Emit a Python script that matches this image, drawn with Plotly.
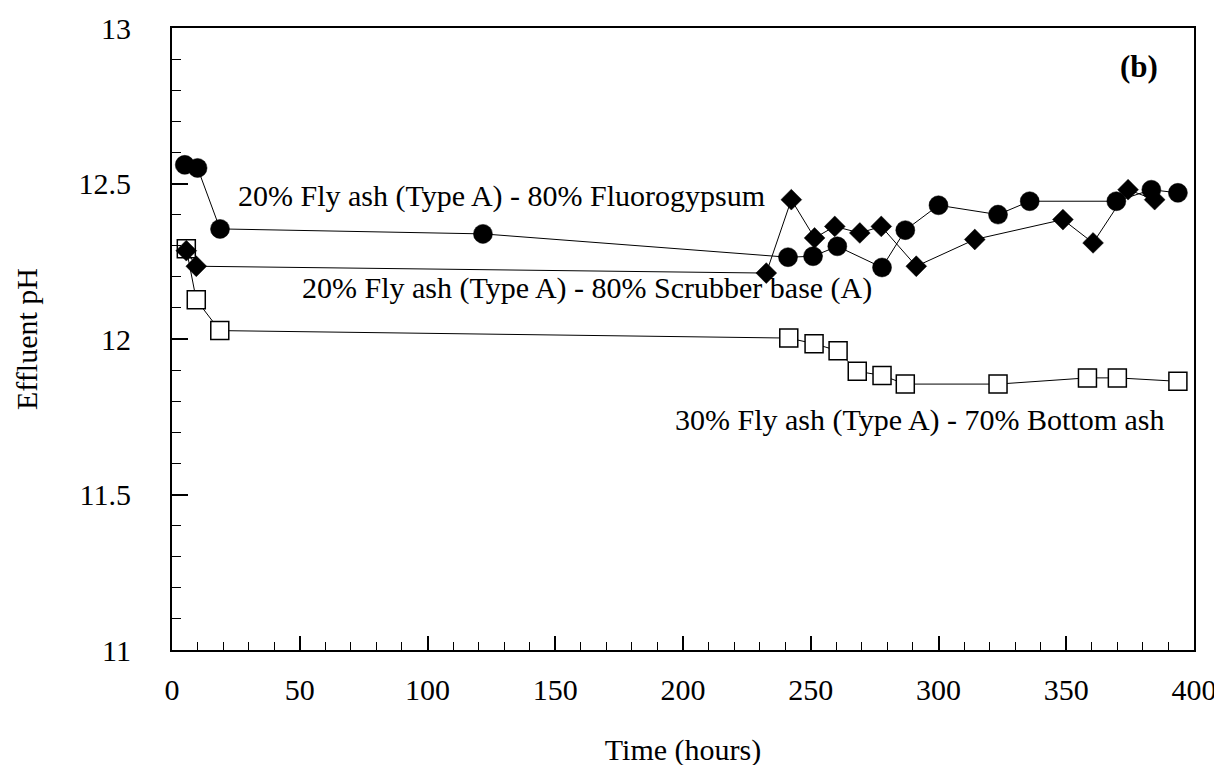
import plotly.graph_objects as go

# Series data
fluoro_t = [5, 10, 18.8, 121.7, 241.1, 250.9, 260.4, 277.9, 287, 300, 323.3, 335.7, 369.6, 383.3, 393.7]
fluoro_ph = [12.56, 12.55, 12.354, 12.338, 12.263, 12.266, 12.298, 12.23, 12.35, 12.43, 12.40, 12.443, 12.443, 12.48, 12.47]

scrub_t = [5.6, 9.5, 232.6, 242.4, 251.5, 259.4, 269.2, 277.6, 291.3, 314.2, 348.7, 360.5, 374.2, 384.6]
scrub_ph = [12.284, 12.234, 12.212, 12.448, 12.325, 12.362, 12.341, 12.362, 12.234, 12.32, 12.384, 12.309, 12.48, 12.448]

bottom_t = [5.6, 9.5, 18.7, 241.4, 251.3, 260.7, 268.2, 277.9, 287, 323.3, 358.3, 370, 393.7]
bottom_ph = [12.29, 12.126, 12.027, 12.003, 11.985, 11.962, 11.896, 11.883, 11.855, 11.855, 11.875, 11.875, 11.864]

labels = [
    "20% Fly ash (Type A) - 80% Fluorogypsum",
    "20% Fly ash (Type A) - 80% Scrubber base (A)",
    "30% Fly ash (Type A) - 70% Bottom ash",
]
x_ticks = [0, 50, 100, 150, 200, 250, 300, 350, 400]
y_ticks = [11, 11.5, 12, 12.5, 13]

FONT = "Liberation Serif, Times New Roman, serif"

fig = go.Figure()
fig.add_trace(go.Scatter(
    x=bottom_t, y=bottom_ph, mode="lines+markers", name=labels[2],
    line=dict(color="black", width=1),
    marker=dict(symbol="square", size=18, color="white", line=dict(color="black", width=1.5)),
))
fig.add_trace(go.Scatter(
    x=fluoro_t, y=fluoro_ph, mode="lines+markers", name=labels[0],
    line=dict(color="black", width=1),
    marker=dict(symbol="circle", size=19, color="black", line=dict(color="black", width=0.5)),
))
fig.add_trace(go.Scatter(
    x=scrub_t, y=scrub_ph, mode="lines+markers", name=labels[1],
    line=dict(color="black", width=1),
    marker=dict(symbol="diamond", size=16, color="black", line=dict(color="black", width=0.5)),
))

ann_font = dict(family=FONT, size=30, color="black")
fig.add_annotation(x=25.0, y=12.46, text=labels[0], showarrow=False, xanchor="left", yanchor="middle", font=ann_font)
fig.add_annotation(x=50.1, y=12.165, text=labels[1], showarrow=False, xanchor="left", yanchor="middle", font=ann_font)
fig.add_annotation(x=196, y=11.74, text=labels[2], showarrow=False, xanchor="left", yanchor="middle", font=ann_font)
fig.add_annotation(x=386.7, y=12.875, text="<b>(b)</b>", showarrow=False, xanchor="right", yanchor="middle",
                   font=dict(family=FONT, size=31, color="black"))

fig.update_layout(
    width=1222, height=765,
    margin=dict(l=164, r=36, t=20, b=123),
    paper_bgcolor="white", plot_bgcolor="white",
    showlegend=False,
    font=dict(family=FONT, size=30, color="black"),
)
fig.update_xaxes(
    range=[0, 400], tickvals=x_ticks, ticktext=[str(v) for v in x_ticks],
    showgrid=False, zeroline=False, automargin=False,
    showline=True, linecolor="black", linewidth=2, mirror=True,
    ticks="inside", ticklen=14, tickwidth=1.5, tickcolor="black",
    minor=dict(dtick=10, ticks="inside", ticklen=8, tickwidth=1, tickcolor="black"),
    ticklabelstandoff=12,
    tickfont=dict(family=FONT, size=30, color="black"),
    title=dict(text="Time (hours)", font=dict(family=FONT, size=30, color="black"), standoff=34),
)
fig.update_yaxes(
    range=[11, 13], tickvals=y_ticks, ticktext=["11", "11.5", "12", "12.5", "13"],
    showgrid=False, zeroline=False, automargin=False,
    showline=True, linecolor="black", linewidth=2, mirror=True,
    ticks="inside", ticklen=16, tickwidth=1.5, tickcolor="black",
    minor=dict(dtick=0.1, ticks="inside", ticklen=9, tickwidth=1, tickcolor="black"),
    ticklabelstandoff=33,
    tickfont=dict(family=FONT, size=30, color="black"),
    title=dict(text="Effluent pH", font=dict(family=FONT, size=30, color="black"), standoff=32),
)

fig.write_html("out.html")
